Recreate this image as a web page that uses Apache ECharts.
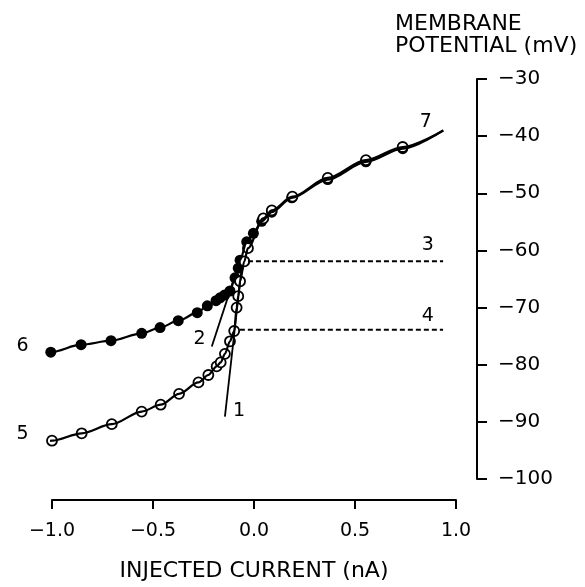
<!DOCTYPE html>
<html>
  <head>
    <meta charset="utf-8" />
    <title>I-V curve</title>
    <style>
      html, body { margin: 0; padding: 0; background: #fff; }
      #chart-container { width: 585px; height: 587px; }
    </style>
  </head>
  <body>
    <div id="chart-container"></div>
    <script src="https://cdn.jsdelivr.net/npm/echarts@6/dist/echarts.min.js"></script>
    <script>
      // tick values
      var xTicks = [-1.0, -0.5, 0.0, 0.5, 1.0];
      var yTicks = [-100, -90, -80, -70, -60, -50, -40, -30];

      // open circles (current nA, potential mV)
      var openPoints = [
        [-1.00, -93.3], [-0.853, -92.0], [-0.704, -90.4], [-0.556, -88.2],
        [-0.462, -87.0], [-0.371, -85.1], [-0.275, -83.1], [-0.226, -81.8],
        [-0.185, -80.3], [-0.165, -79.6], [-0.144, -78.1], [-0.119, -75.9],
        [-0.098, -74.1], [-0.086, -70.0], [-0.078, -68.0], [-0.069, -65.4],
        [-0.048, -61.9], [-0.030, -59.6], [0.046, -54.4], [0.088, -53.0],
        [0.19, -50.6], [0.365, -47.3], [0.554, -44.2], [0.736, -41.9]
      ];
      // filled circles
      var filledPoints = [
        [-1.006, -77.8], [-0.856, -76.5], [-0.708, -75.8], [-0.556, -74.5],
        [-0.465, -73.5], [-0.375, -72.3], [-0.281, -70.9], [-0.231, -69.7],
        [-0.188, -68.8], [-0.168, -68.3], [-0.145, -67.8], [-0.119, -67.1],
        [-0.094, -64.8], [-0.078, -63.1], [-0.069, -61.7], [-0.036, -58.5],
        [-0.003, -57.0], [0.038, -54.9], [0.088, -53.3], [0.187, -50.8],
        [0.365, -47.6], [0.554, -44.5], [0.736, -42.2]
      ];
      // ends of the fitted curves
      var curve5Start = [-1.19, -95.5];
      var curve6Start = [-1.19, -79.3];
      var curve7End = [0.937, -39.0];
      // straight lines 1 and 2
      var line1 = [[-0.144, -89.1], [-0.061, -63.0]];
      var line2 = [[-0.209, -76.8], [-0.095, -64.5]];
      // dashed levels 3 and 4
      var level3 = [[-0.03, -61.9], [0.936, -61.9]];
      var level4 = [[-0.07, -73.9], [0.936, -73.9]];
      // curve numbers
      var curveLabels = [
        [-0.074, -88.1, "1"], [-0.27, -75.5, "2"], [0.86, -59.1, "3"],
        [0.86, -71.4, "4"], [-1.146, -92.2, "5"], [-1.146, -76.7, "6"],
        [0.85, -37.6, "7"]
      ];

      var font = "DejaVu Sans";
      function minus(s) { return String(s).replace("-", "\u2212"); }

      var dom = document.getElementById("chart-container");
      var myChart = echarts.init(dom, null, { renderer: "canvas" });

      var option = {
        animation: false,
        title: {
          text: "MEMBRANE\nPOTENTIAL (mV)",
          left: 395,
          top: 13,
          padding: 0,
          textStyle: { fontFamily: font, fontSize: 22, fontWeight: "normal", lineHeight: 22, color: "#000" }
        },
        grid: { left: 52, right: 129, top: 79, bottom: 104 },
        xAxis: {
          type: "value",
          min: xTicks[0],
          max: xTicks[xTicks.length - 1],
          interval: 0.5,
          offset: 21,
          name: "INJECTED CURRENT (nA)",
          nameLocation: "middle",
          nameGap: 60,
          nameTextStyle: { fontFamily: font, fontSize: 22, color: "#000" },
          axisLine: { onZero: false, lineStyle: { color: "#000", width: 2 } },
          axisTick: { length: 9, lineStyle: { color: "#000", width: 2 } },
          axisLabel: {
            margin: 22,
            fontFamily: font, fontSize: 19, color: "#000",
            formatter: function (v) { return minus(v.toFixed(1)); }
          },
          splitLine: { show: false }
        },
        yAxis: {
          type: "value",
          position: "right",
          min: yTicks[0],
          max: yTicks[yTicks.length - 1],
          interval: 10,
          offset: 21,
          axisLine: { show: true, onZero: false, lineStyle: { color: "#000", width: 2 } },
          axisTick: { show: true, length: 10, lineStyle: { color: "#000", width: 2 } },
          axisLabel: {
            margin: 21,
            fontFamily: font, fontSize: 20, color: "#000",
            formatter: function (v) { return minus(v); }
          },
          splitLine: { show: false }
        },
        series: [
          {
            type: "line", clip: false, showSymbol: false, smooth: 0.3, smoothMonotone: "x",
            lineStyle: { color: "#000", width: 2.2 },
            data: [curve5Start].concat(openPoints, [curve7End])
          },
          {
            type: "line", clip: false, showSymbol: false, smooth: 0.3, smoothMonotone: "x",
            lineStyle: { color: "#000", width: 2.2 },
            data: [curve6Start].concat(filledPoints, [curve7End])
          },
          {
            type: "line", clip: false, showSymbol: false,
            lineStyle: { color: "#000", width: 1.8 }, data: line1
          },
          {
            type: "line", clip: false, showSymbol: false,
            lineStyle: { color: "#000", width: 1.8 }, data: line2
          },
          {
            type: "line", clip: false, showSymbol: false,
            lineStyle: { color: "#000", width: 2, type: [5, 3] }, data: level3
          },
          {
            type: "line", clip: false, showSymbol: false,
            lineStyle: { color: "#000", width: 2, type: [5, 3] }, data: level4
          },
          {
            type: "scatter", clip: false, symbol: "circle", symbolSize: 11,
            itemStyle: { color: "#000", opacity: 1 }, data: filledPoints
          },
          {
            type: "scatter", clip: false, symbol: "circle", symbolSize: 10,
            itemStyle: { color: "#fff", borderColor: "#000", borderWidth: 1.8, opacity: 1 }, data: openPoints
          },
          {
            type: "scatter", clip: false, symbolSize: 0,
            itemStyle: { opacity: 1 },
            label: {
              show: true, position: "inside", fontFamily: font, fontSize: 19, color: "#000",
              formatter: function (p) { return p.value[2]; }
            },
            data: curveLabels
          }
        ]
      };
      myChart.setOption(option);
      window.addEventListener("resize", myChart.resize);
    </script>
  </body>
</html>
